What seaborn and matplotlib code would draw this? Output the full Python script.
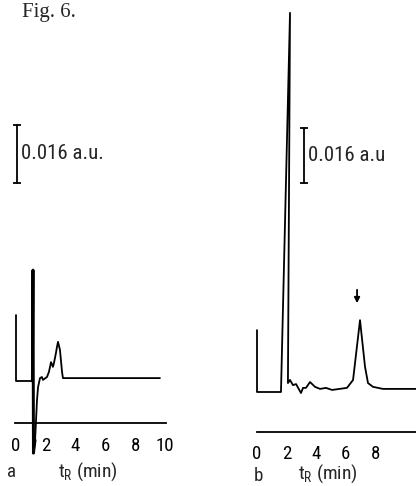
import matplotlib
matplotlib.use("Agg")
import matplotlib.pyplot as plt
import seaborn as sns
import pandas as pd

sns.set_style("white")

# ---------------- data ----------------
# panel a: retention time (min) and absorbance (a.u., baseline = 0)
a_time = [0.0, 0.0, 1.10, 1.14, 1.17, 1.28, 1.41, 1.48, 1.61, 1.74, 1.81, 2.08, 2.21, 2.35,
          2.48, 2.55, 2.68, 2.75, 2.82, 2.95, 3.09, 3.15, 9.66]
a_signal = [0.0182, 0.0, 0.0, 0.0306, -0.0199, -0.0163, -0.0052, -0.0017, 0.0008, 0.0011,
            0.0003, 0.0011, 0.0025, 0.0052, 0.0039, 0.0050, 0.0077, 0.0094, 0.0108, 0.0086,
            0.0025, 0.0008, 0.0008]
# panel b
b_time = [0.0, 0.0, 1.62, 2.23, 2.09, 2.23, 2.43, 2.64, 2.97, 3.11, 3.31, 3.58, 3.92, 4.26,
          4.66, 5.07, 6.08, 6.49, 6.96, 7.30, 7.50, 7.84, 8.51, 10.74]
b_signal = [0.0180, 0.0, 0.0, 0.1103, 0.0026, 0.0035, 0.0020, 0.0023, -0.0003, 0.0012, 0.0012,
            0.0029, 0.0015, 0.0009, 0.0012, 0.0006, 0.0012, 0.0035, 0.0209, 0.0073, 0.0026,
            0.0015, 0.0009, 0.0009]
ticks = [0, 2, 4, 6, 8, 10]
a_ticklabels = ["0", "2", "4", "6", "8", "10"]
b_ticklabels = ["0", "2", "4", "6", "8", ""]
scale_value = 0.016
a_scale_text = "0.016 a.u."
b_scale_text = "0.016 a.u"
xlabel = r"$\mathregular{t_R}$ (min)"
arrow_time = 6.76
title = "Fig. 6."

# ---------------- layout ----------------
W, H = 416, 486
fig = plt.figure(figsize=(W / 100, H / 100), dpi=100)
narrow = ["Roboto Condensed", "Archivo Narrow", "DejaVu Sans"]
FS = 13.6


def add_ax(left, right, top, bottom):
    return fig.add_axes([left / W, 1 - bottom / H, (right - left) / W, (bottom - top) / H])


ka = 0.016 / 58.0
kb = 0.016 / 55.0
ax_a = add_ax(15, 166, 5, 423)
ax_a.set_xlim((15 - 16) / 14.9, (166 - 16) / 14.9)
ax_a.set_ylim((381 - 423) * ka, (381 - 5) * ka)
ax_b = add_ax(257, 416, 5, 432)
ax_b.set_xlim(0, (416 - 257) / 14.8)
ax_b.set_ylim((392 - 432) * kb, (392 - 5) * kb)

dfa = pd.DataFrame({"t": a_time, "A": a_signal})
dfb = pd.DataFrame({"t": b_time, "A": b_signal})
sns.lineplot(data=dfa, x="t", y="A", ax=ax_a, sort=False, estimator=None, color="black",
             lw=1.3, clip_on=False)
sns.lineplot(data=dfa.iloc[2:6], x="t", y="A", ax=ax_a, sort=False, estimator=None,
             color="black", lw=2.1, clip_on=False)
sns.lineplot(data=dfb, x="t", y="A", ax=ax_b, sort=False, estimator=None, color="black",
             lw=1.3, clip_on=False)

for ax, labels, pad, xlab_pos, letter, letter_pos in [
    (ax_a, a_ticklabels, 7.2, (88, 477), "a", (11, 477)),
    (ax_b, b_ticklabels, 6.6, (328, 479), "b", (258.5, 481)),
]:
    for s in ["top", "right", "left"]:
        ax.spines[s].set_visible(False)
    ax.spines["bottom"].set_linewidth(1.3)
    ax.spines["bottom"].set_color("black")
    ax.set_xticks(ticks)
    ax.set_xticklabels(labels, family=narrow, fontsize=FS)
    ax.set_yticks([])
    ax.tick_params(axis="x", direction="out", length=3, width=1.1, pad=pad, colors="black")
    ax.set_xlabel("")
    ax.set_ylabel("")
    fig.text(xlab_pos[0] / W, 1 - xlab_pos[1] / H, xlabel, ha="center", va="baseline",
             family=narrow, fontsize=14)
    fig.text(letter_pos[0] / W, 1 - letter_pos[1] / H, letter, ha="center", va="baseline",
             family=narrow, fontsize=FS)

# scale bars (0.016 a.u. in each panel's own units)
bar_a_t, bar_a_y = (17 - 16) / 14.9, (381 - 183) * ka
ax_a.plot([bar_a_t, bar_a_t], [bar_a_y, bar_a_y + scale_value], color="black", lw=1.3,
          marker="_", markersize=6, mew=1.3, clip_on=False)
ax_a.text(bar_a_t + 0.30, bar_a_y + scale_value / 2, a_scale_text, ha="left", va="center",
          family=narrow, fontsize=15)
bar_b_t, bar_b_y = (304 - 257) / 14.8, (392 - 183) * kb
ax_b.plot([bar_b_t, bar_b_t], [bar_b_y, bar_b_y + scale_value], color="black", lw=1.3,
          marker="_", markersize=6, mew=1.3, clip_on=False)
ax_b.text(bar_b_t + 0.30, bar_b_y + scale_value / 2, b_scale_text, ha="left", va="center",
          family=narrow, fontsize=15)

# arrow above the peak of interest
ax_b.annotate("", xy=(arrow_time, (392 - 306) * kb), xytext=(arrow_time, (392 - 287) * kb),
              arrowprops=dict(arrowstyle="-|>", color="black", lw=1.3, mutation_scale=8))

fig.text(22 / W, 1 - 13 / H, title, ha="left", va="center",
         family=["Liberation Serif", "DejaVu Serif"], fontsize=15)

fig.savefig("out.png", dpi=100)
